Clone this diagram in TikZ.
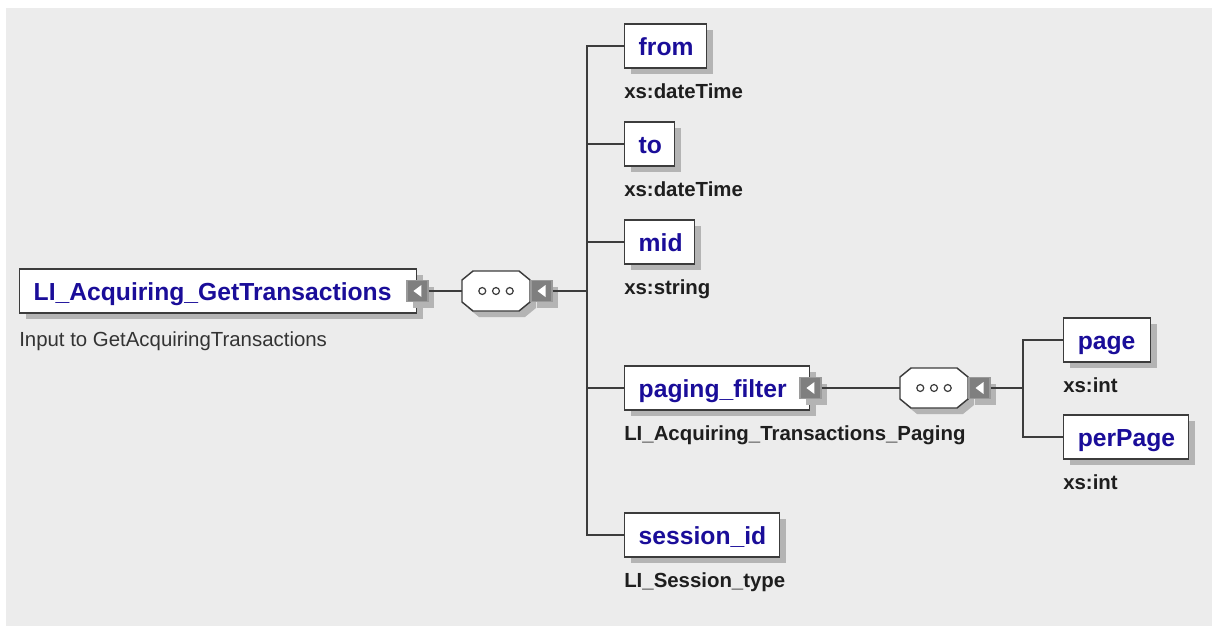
\documentclass[tikz,border=0pt]{standalone}
\usepackage{fontspec}
\setmainfont{Liberation Sans}
\usetikzlibrary{shadows}
\definecolor{bg}{HTML}{ECECEC}
\definecolor{elblue}{HTML}{1A0D99}
\definecolor{edge}{HTML}{3C3C3C}
\definecolor{shade}{HTML}{B4B4B4}
\definecolor{expfill}{HTML}{7F7F7F}
\definecolor{expdraw}{HTML}{9A9A9A}
\definecolor{typtext}{HTML}{1E1E1E}
\definecolor{desctext}{HTML}{333333}
\newcommand\octapath{(-34,-11) -- (-23,-20) -- (23,-20) -- (34,-11) -- (34,11) -- (23,20) -- (-23,20) -- (-34,11) -- cycle}
\begin{document}
\begin{tikzpicture}[x=0.75pt,y=-0.75pt,
 shad/.style={drop shadow={shadow xshift=4.5pt,shadow yshift=-4.5pt,fill=shade,opacity=1}},
 elem/.style={rectangle,draw=edge,line width=1.1pt,fill=white,shad,anchor=west,align=left,
   inner xsep=10.5pt,inner ysep=0pt,minimum height=33pt,text height=13.5pt,text depth=0pt,
   text=elblue,font=\fontsize{18.5pt}{20pt}\selectfont\bfseries},
 typ/.style={anchor=base west,inner sep=0pt,text=typtext,font=\fontsize{15.3pt}{17pt}\selectfont\bfseries},
 desc/.style={anchor=base west,inner sep=0pt,text=desctext,font=\fontsize{15.3pt}{17pt}\selectfont},
 expander/.style={rectangle,fill=expfill,draw=expdraw,line width=1.1pt,minimum size=15.75pt,inner sep=0pt,shad,
   path picture={\fill[white] ([xshift=-3pt]path picture bounding box.center) -- ++(6pt,-4.5pt) -- ++(0pt,9pt) -- cycle;}},
 octshadow/.style={fill=shade},
 octbody/.style={draw=edge,line width=1.1pt,fill=white},
 seqbox/.style={rectangle,minimum width=51pt,minimum height=30pt,inner sep=0pt,
   path picture={\foreach \dx in {-10.3pt,0pt,10.3pt}
     \draw[edge,line width=0.9pt] ([xshift=\dx]path picture bounding box.center) circle (2.6pt);}},
 conn/.style={draw=edge,line width=1.1pt}
]
\useasboundingbox (0,0) rectangle (1212,626);
\fill[white] (0,0) rectangle (1212,626);
\fill[bg] (6,8) rectangle (1212,626);

% root
\node[elem,text width=276.75pt] (root) at (19,291) {\mbox{LI\_Acquiring\_GetTransactions}};
\node[expander] (rootx) at (root.east) {};
\node[desc] (rootd) at (19,346.6) {Input to GetAcquiringTransactions};

% first sequence
\begin{scope}[shift={(496,291)}]
 \fill[octshadow] [shift={(6,6)}] \octapath;
 \path[octbody] \octapath;
\end{scope}
\node[seqbox] (s1) at (496,291) {};
\node[expander,anchor=west] (s1x) at (s1.east) {};
\coordinate (b1) at (587,291);

% children
\node[elem,text width=40.5pt] (from) at (624,46) {\mbox{from}};
\node[typ] (fromt) at (624,98) {xs:dateTime};
\node[elem,text width=16.5pt] (to) at (624,144) {\mbox{to}};
\node[typ] (tot) at (624,196) {xs:dateTime};
\node[elem,text width=31.5pt] (mid) at (624,242) {\mbox{mid}};
\node[typ] (midt) at (624,294) {xs:string};
\node[elem,text width=117.75pt] (pf) at (624,388) {\mbox{paging\_filter}};
\node[expander] (pfx) at (pf.east) {};
\node[typ] (pft) at (624,440) {LI\_Acquiring\_Transactions\_Paging};
\node[elem,text width=95.25pt] (sid) at (624,535) {\mbox{session\_id}};
\node[typ] (sidt) at (624,587) {LI\_Session\_type};

% second sequence
\begin{scope}[shift={(934,388)}]
 \fill[octshadow] [shift={(6,6)}] \octapath;
 \path[octbody] \octapath;
\end{scope}
\node[seqbox] (s2) at (934,388) {};
\node[expander,anchor=west] (s2x) at (s2.east) {};
\coordinate (b2) at (1023,388);

\node[elem,text width=44.25pt] (page) at (1063,340) {\mbox{page}};
\node[typ] (paget) at (1063,392) {xs:int};
\node[elem,text width=72.75pt] (perpage) at (1063,437) {\mbox{perPage}};
\node[typ] (perpaget) at (1063,489) {xs:int};

% connectors
\draw[conn] (rootx.east) -- (s1.west);
\draw[conn] (s1x.east) -- (b1);
\foreach \n in {from,to,mid,pf,sid} \draw[conn] (b1) |- (\n.west);
\draw[conn] (pfx.east) -- (s2.west);
\draw[conn] (s2x.east) -- (b2);
\foreach \n in {page,perpage} \draw[conn] (b2) |- (\n.west);
\end{tikzpicture}
\end{document}
